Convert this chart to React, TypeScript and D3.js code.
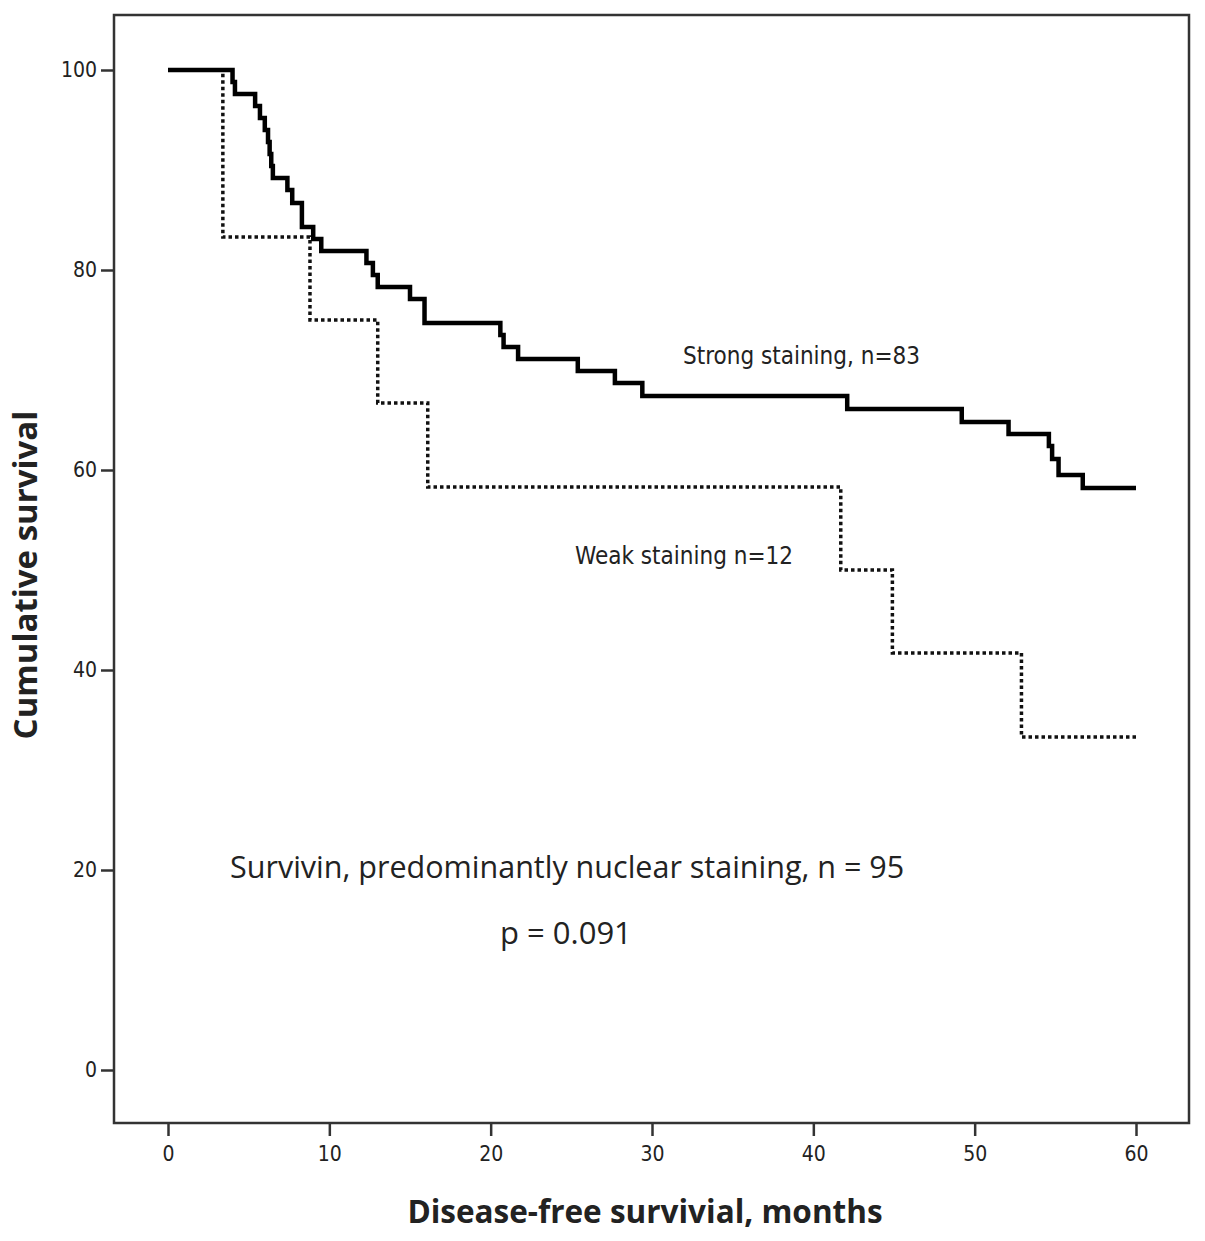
import * as d3 from 'd3';
import { useEffect, useRef } from 'react';

// Kaplan-Meier steps (months, % surviving after each event)
const strongTimes = [0, 4.0, 4.15, 5.4, 5.7, 6.0, 6.2, 6.3, 6.4, 6.5, 7.4, 7.7, 8.3, 9.0, 9.5, 12.3, 12.7, 13.0, 15.0, 15.9, 20.6, 20.8, 21.7, 25.4, 27.7, 29.4, 42.1, 49.2, 52.1, 54.6, 54.8, 55.2, 56.7, 60];
const strongSurv = [100, 98.8, 97.6, 96.4, 95.2, 94.0, 92.8, 91.6, 90.4, 89.2, 88.0, 86.7, 84.3, 83.1, 81.9, 80.7, 79.5, 78.3, 77.1, 74.7, 73.5, 72.3, 71.1, 69.9, 68.7, 67.4, 66.1, 64.8, 63.6, 62.4, 61.1, 59.5, 58.2, 58.2];

const weakTimes = [0, 3.4, 8.8, 13.0, 16.1, 41.7, 44.9, 52.9, 60];
const weakSurv = [100, 83.3, 75.0, 66.7, 58.3, 50.0, 41.7, 33.3, 33.3];

const xTicks = [0, 10, 20, 30, 40, 50, 60];
const yTicks = [0, 20, 40, 60, 80, 100];

const W = 1205;
const H = 1241;
const frame = { left: 114, right: 1189, top: 15, bottom: 1123 };

export default function App() {
  const ref = useRef<SVGSVGElement>(null);

  useEffect(() => {
    if (!ref.current) return;
    const svg = d3.select(ref.current);
    svg.selectAll('*').remove();

    const x = d3.scaleLinear().domain([0, 60]).range([168, 1136]);
    const y = d3.scaleLinear().domain([0, 100]).range([1070, 70]);

    const narrow = '"DejaVu Sans Condensed", "Liberation Sans Narrow", sans-serif';
    const sans = '"Open Sans", sans-serif';

    // frame
    svg.append('rect')
      .attr('x', frame.left)
      .attr('y', frame.top)
      .attr('width', frame.right - frame.left)
      .attr('height', frame.bottom - frame.top)
      .attr('fill', 'none')
      .attr('stroke', '#333')
      .attr('stroke-width', 2.5);

    // x axis
    const xAxis = d3.axisBottom(x).tickValues(xTicks).tickSize(13).tickPadding(10);
    const gx = svg.append('g').attr('transform', `translate(0,${frame.bottom})`).call(xAxis);
    gx.select('.domain').remove();
    gx.selectAll('line').attr('stroke', '#333').attr('stroke-width', 2.5);
    gx.selectAll('text')
      .attr('font-family', narrow)
      .attr('font-size', 21)
      .attr('fill', '#222');

    // y axis
    const yAxis = d3.axisLeft(y).tickValues(yTicks).tickSize(13).tickPadding(4);
    const gy = svg.append('g').attr('transform', `translate(${frame.left},0)`).call(yAxis);
    gy.select('.domain').remove();
    gy.selectAll('line').attr('stroke', '#333').attr('stroke-width', 2.5);
    gy.selectAll('text')
      .attr('font-family', narrow)
      .attr('font-size', 21)
      .attr('fill', '#222');

    const line = d3.line<[number, number]>()
      .x(d => x(d[0]))
      .y(d => y(d[1]))
      .curve(d3.curveStepAfter);

    const weak: [number, number][] = weakTimes.map((t, i) => [t, weakSurv[i]]);
    const strong: [number, number][] = strongTimes.map((t, i) => [t, strongSurv[i]]);

    svg.append('path')
      .datum(weak)
      .attr('fill', 'none')
      .attr('stroke', '#111')
      .attr('stroke-width', 3.5)
      .attr('stroke-dasharray', '3.5,3')
      .attr('d', line);

    svg.append('path')
      .datum(strong)
      .attr('fill', 'none')
      .attr('stroke', '#000')
      .attr('stroke-width', 4.5)
      .attr('d', line);

    const label = (txt: string, px: number, py: number, size: number, font: string, weight = 'normal', anchor = 'start') =>
      svg.append('text')
        .attr('x', px)
        .attr('y', py)
        .attr('font-family', font)
        .attr('font-size', size)
        .attr('font-weight', weight)
        .attr('text-anchor', anchor)
        .attr('fill', '#222')
        .text(txt);

    label('Strong staining, n=83', 683, 364, 24, narrow);
    label('Weak staining n=12', 575, 564, 24, narrow);
    label('Survivin, predominantly nuclear staining, n = 95', 230, 878, 30.5, sans);
    label('p = 0.091', 500, 944, 31, sans);
    label('Disease-free survivial, months', 645, 1223, 31.5, sans, 'bold', 'middle');

    svg.append('text')
      .attr('transform', 'translate(37,575) rotate(-90)')
      .attr('font-family', sans)
      .attr('font-size', 33)
      .attr('font-weight', 'bold')
      .attr('text-anchor', 'middle')
      .attr('fill', '#222')
      .text('Cumulative survival');
  }, []);

  return (
    <svg
      ref={ref}
      width={W}
      height={H}
      viewBox={`0 0 ${W} ${H}`}
      style={{ position: 'absolute', left: 0, top: 0, background: '#fff' }}
    />
  );
}
